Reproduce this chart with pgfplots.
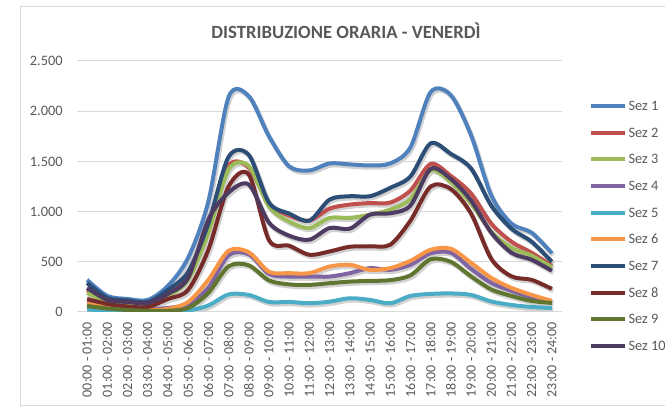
\documentclass[border=0pt]{standalone}
\usepackage{fontspec}
\setmainfont{Carlito}
\usepackage{pgfplots}
\usepackage{pgfplotstable}
\pgfplotsset{compat=1.18}
\definecolor{cS1}{HTML}{4F81BD}
\definecolor{cS2}{HTML}{C0504D}
\definecolor{cS3}{HTML}{9BBB59}
\definecolor{cS4}{HTML}{8064A2}
\definecolor{cS5}{HTML}{4BACC6}
\definecolor{cS6}{HTML}{F79646}
\definecolor{cS7}{HTML}{2C4D75}
\definecolor{cS8}{HTML}{772C2A}
\definecolor{cS9}{HTML}{5F7530}
\definecolor{cS10}{HTML}{4D3B62}
\definecolor{tgray}{HTML}{595959}
\definecolor{gridc}{HTML}{D9D9D9}

\pgfplotstableread{
h s1 s2 s3 s4 s5 s6 s7 s8 s9 s10
0 320 220 190 100 25 80 290 130 60 240
1 160 120 110 60 15 50 140 80 35 120
2 130 100 90 40 10 30 115 55 20 100
3 120 90 80 30 8 20 100 50 12 90
4 260 180 160 40 8 30 220 130 12 180
5 540 360 320 80 15 100 400 220 40 340
6 1100 840 790 240 65 320 880 620 190 920
7 2140 1455 1420 565 175 610 1545 1250 455 1190
8 2150 1440 1455 575 170 595 1565 1370 465 1270
9 1750 1080 1050 380 100 400 1090 715 315 890
10 1450 960 900 353 100 387 980 660 275 760
11 1410 910 837 353 87 387 910 570 270 720
12 1480 1030 937 353 103 453 1120 603 287 837
13 1470 1070 937 387 137 470 1153 650 303 830
14 1460 1085 970 437 120 420 1153 655 310 970
15 1480 1090 1020 420 87 437 1237 670 317 983
16 1640 1210 1125 470 160 510 1350 910 365 1060
17 2190 1475 1410 585 180 620 1680 1250 525 1425
18 2160 1355 1295 590 185 630 1575 1225 500 1325
19 1760 1180 1080 430 170 490 1430 980 355 1110
20 1160 880 800 290 105 340 1060 530 225 790
21 880 700 640 210 70 240 830 355 160 590
22 790 590 560 145 50 170 700 320 110 520
23 585 460 445 100 40 110 500 230 90 410
}\datatable

\begin{document}
\begin{tikzpicture}
\useasboundingbox (0,0) rectangle (498.75pt,305.25pt);
\draw[gridc, line width=0.75pt] (498.75pt,300pt) -- (15pt,300pt) -- (15pt,0.75pt) -- (498.75pt,0.75pt);
\node[font=\fontsize{14}{16}\selectfont\bfseries, text=tgray] at (259.5pt,282pt) {DISTRIBUZIONE ORARIA - VENERDÌ};
\begin{axis}[
  at={(57.75pt,71.25pt)}, anchor=south west,
  scale only axis, width=363.75pt, height=188.25pt,
  xmin=-0.5, xmax=23.5, ymin=0, ymax=2500,
  axis line style={draw=none},
  major tick length=0pt,
  ytick={0,500,1000,1500,2000,2500},
  yticklabels={0,500,1.000,1.500,2.000,2.500},
  xtick={0,...,23},
  xticklabels={00:00 - 01:00,01:00 - 02:00,02:00 - 03:00,03:00 - 04:00,04:00 - 05:00,05:00 - 06:00,06:00 - 07:00,07:00 - 08:00,08:00 - 09:00,09:00 - 10:00,10:00 - 11:00,11:00 - 12:00,12:00 - 13:00,13:00 - 14:00,14:00 - 15:00,15:00 - 16:00,16:00 - 17:00,17:00 - 18:00,18:00 - 19:00,19:00 - 20:00,20:00 - 21:00,21:00 - 22:00,22:00 - 23:00,23:00 - 24:00},
  xticklabel style={rotate=90, anchor=east, inner sep=0pt, font=\fontsize{10.5}{12}\selectfont, text=tgray},
  yticklabel style={anchor=east, inner sep=0pt, font=\fontsize{10.8}{12}\selectfont, text=tgray},
  xticklabel shift=7.5pt,
  yticklabel shift=10.5pt,
  xmajorgrids=false, ymajorgrids=true,
  y grid style={draw=gridc, line width=0.75pt},
  legend cell align=left,
  legend style={at={(axis description cs:1.0474,0.343)}, anchor=west, draw=none, fill=none,
    font=\fontsize{10.8}{12}\selectfont, text=tgray, row sep=13pt, column sep=1.5pt,
    nodes={inner sep=0pt, text height=7pt, text depth=0pt}},
  legend image code/.code={\draw[#1, line width=3pt, line cap=butt] (0pt,0pt) -- (25pt,0pt);},
  every axis plot/.append style={line width=3pt, line join=round, smooth, tension=0.5},
  shadow/.style={black!18, line width=3.4pt, forget plot, transform canvas={shift={(1pt,-1.5pt)}}},
]
\foreach \k in {1,...,10}{
  \addplot[shadow] table[x=h, y=s\k] {\datatable};
}
\addplot[cS1] table[x=h, y=s1] {\datatable};
\addplot[cS2] table[x=h, y=s2] {\datatable};
\addplot[cS3] table[x=h, y=s3] {\datatable};
\addplot[cS4] table[x=h, y=s4] {\datatable};
\addplot[cS5] table[x=h, y=s5] {\datatable};
\addplot[cS6] table[x=h, y=s6] {\datatable};
\addplot[cS7] table[x=h, y=s7] {\datatable};
\addplot[cS8] table[x=h, y=s8] {\datatable};
\addplot[cS9] table[x=h, y=s9] {\datatable};
\addplot[cS10] table[x=h, y=s10] {\datatable};
\legend{Sez 1,Sez 2,Sez 3,Sez 4,Sez 5,Sez 6,Sez 7,Sez 8,Sez 9,Sez 10}
\end{axis}
\end{tikzpicture}
\end{document}
